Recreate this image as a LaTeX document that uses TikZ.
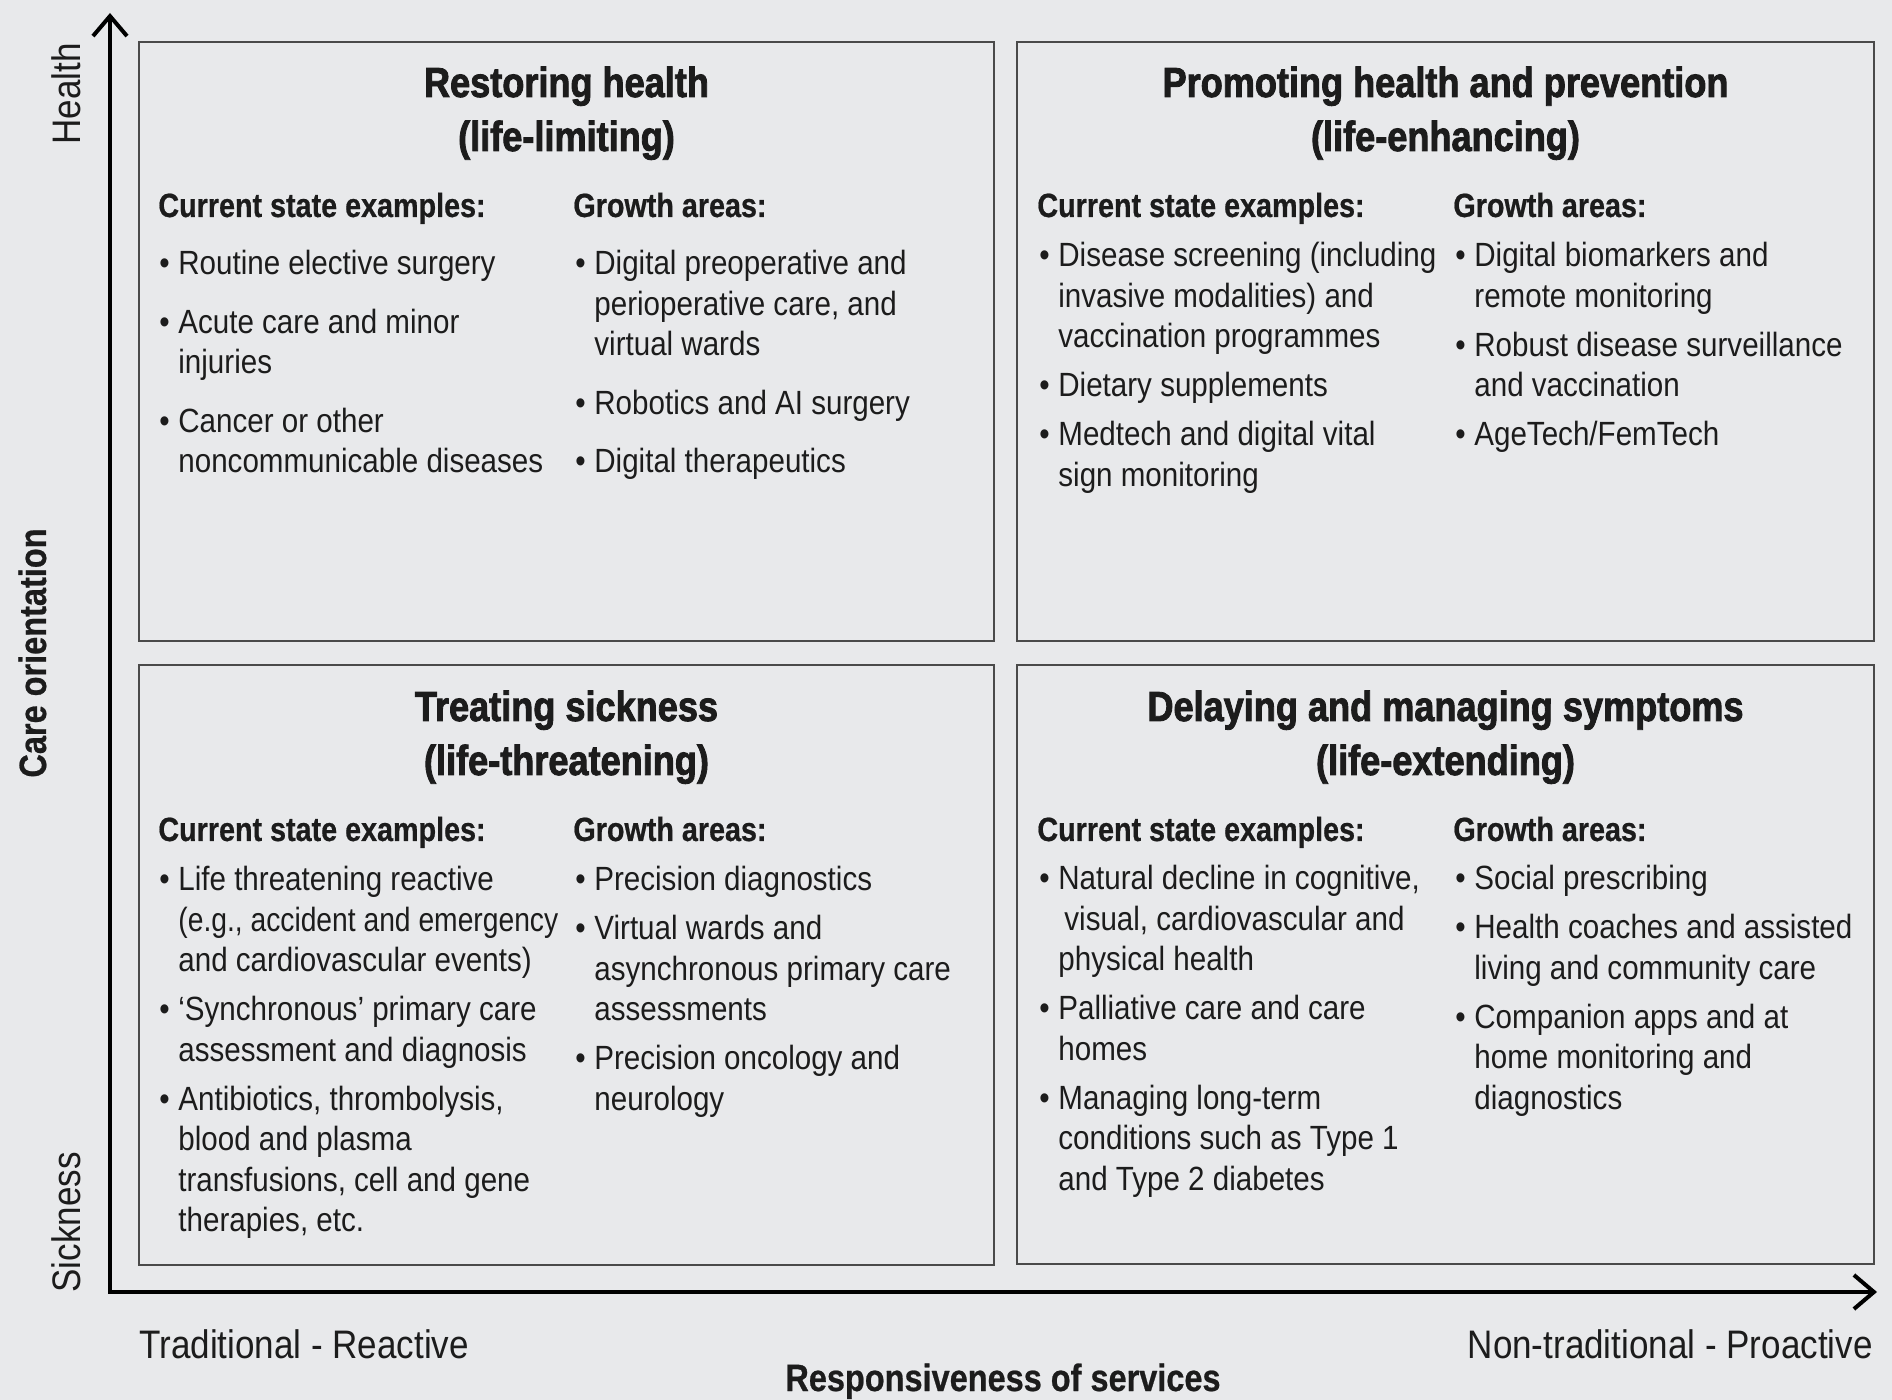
\documentclass[tikz,border=0pt]{standalone}
\usepackage{fontspec}
\usepackage{graphicx}
\setmainfont{Liberation Sans}[FakeStretch=0.88]
\newfontfamily\titlefont{Liberation Sans}[FakeStretch=0.86,FakeBold=2]
\newfontfamily\headfont{Liberation Sans}[FakeStretch=0.855,FakeBold=0.6]
\usetikzlibrary{arrows.meta}
\definecolor{bg}{HTML}{E8E9EB}
\definecolor{ink}{HTML}{1C1C1C}
\definecolor{framec}{HTML}{4A4A4A}
\newcommand{\bul}{\makebox[9.5pt][l]{\textbullet}}
\tikzset{
  body/.style={font=\fontsize{16.8}{20.25}\selectfont, text=ink, inner sep=0pt, anchor=base west},
  head/.style={font=\fontsize{16.8}{20.25}\selectfont\headfont\bfseries, text=ink, inner sep=0pt, anchor=base west},
  ttl/.style={font=\fontsize{21}{27}\selectfont\titlefont\bfseries, text=ink, inner sep=0pt, anchor=base},
  lab/.style={font=\fontsize{19.9}{23}\selectfont, text=ink, inner sep=0pt},
  blab/.style={font=\fontsize{19}{23}\selectfont\headfont\bfseries, text=ink, inner sep=0pt},
  quad/.style={draw=framec, line width=0.75pt},
  axis/.style={draw=black, line width=2pt, line join=miter}
}
\begin{document}
\begin{tikzpicture}[x=0.5pt,y=-0.5pt]
\fill[bg] (0,0) rectangle (1892,1400);
\useasboundingbox (0,0) rectangle (1892,1400);

% quadrant boxes
\draw[quad] (139,42) rectangle (994,641);
\draw[quad] (1017,42) rectangle (1874,641);
\draw[quad] (139,665) rectangle (994,1265);
\draw[quad] (1017,665) rectangle (1874,1264);

% axes
\coordinate (ytip) at (110,13);
\coordinate (o) at (110,1292);
\coordinate (xtip) at (1877,1292);
\draw[axis, {Straight Barb[length=10pt,width=17pt]}-{Straight Barb[length=10pt,width=17pt]}] (ytip) -- (o) -- (xtip);

% axis labels
\node[lab, rotate=90, anchor=base east] (health) at (80,43) {Health};
\node[lab, rotate=90, anchor=base west] (sick) at (80,1293) {Sickness};
\node[blab, rotate=90, anchor=base] (careo) at (46,653) {Care orientation};
\node[lab, anchor=base west] (trad) at (139,1358) {Traditional - Reactive};
\node[lab, anchor=base east] (nontrad) at (1873,1358) {Non-traditional - Proactive};
\node[blab, anchor=base] (resp) at (1003,1391) {Responsiveness of services};

% ---------- top-left ----------
\node[ttl] (tl-t) at (566.5,97) {\begin{tabular}[t]{@{}c@{}}Restoring health\\(life-limiting)\end{tabular}};
\node[head] (tl-h1) at (158,217) {Current state examples:};
\node[head] (tl-h2) at (573,217) {Growth areas:};
\node[body] (tl-c1) at (159,275) {\begin{tabular}[t]{@{}l@{}l@{}}
\bul & Routine elective surgery\\[9pt]
\bul & Acute care and minor\\
 & injuries\\[9pt]
\bul & Cancer or other\\
 & noncommunicable diseases
\end{tabular}};
\node[body] (tl-c2) at (575,275) {\begin{tabular}[t]{@{}l@{}l@{}}
\bul & Digital preoperative and\\
 & perioperative care, and\\
 & virtual wards\\[9pt]
\bul & Robotics and AI surgery\\[9pt]
\bul & Digital therapeutics
\end{tabular}};

% ---------- top-right ----------
\node[ttl] (tr-t) at (1445.5,97) {\begin{tabular}[t]{@{}c@{}}Promoting health and prevention\\(life-enhancing)\end{tabular}};
\node[head] (tr-h1) at (1037,217) {Current state examples:};
\node[head] (tr-h2) at (1453,217) {Growth areas:};
\node[body] (tr-c1) at (1039,267) {\begin{tabular}[t]{@{}l@{}l@{}}
\bul & Disease screening (including\\
 & invasive modalities) and\\
 & vaccination programmes\\[4.25pt]
\bul & Dietary supplements\\[4.25pt]
\bul & Medtech and digital vital\\
 & sign monitoring
\end{tabular}};
\node[body] (tr-c2) at (1455,267) {\begin{tabular}[t]{@{}l@{}l@{}}
\bul & Digital biomarkers and\\
 & remote monitoring\\[4.25pt]
\bul & Robust disease surveillance\\
 & and vaccination\\[4.25pt]
\bul & AgeTech/FemTech
\end{tabular}};

% ---------- bottom-left ----------
\node[ttl] (bl-t) at (566.5,721) {\begin{tabular}[t]{@{}c@{}}Treating sickness\\(life-threatening)\end{tabular}};
\node[head] (bl-h1) at (158,841) {Current state examples:};
\node[head] (bl-h2) at (573,841) {Growth areas:};
\node[body] (bl-c1) at (159,891) {\begin{tabular}[t]{@{}l@{}l@{}}
\bul & Life threatening reactive\\
 & \scalebox{0.955}[1]{(e.g., accident and emergency}\\
 & and cardiovascular events)\\[4.25pt]
\bul & ‘Synchronous’ primary care\\
 & assessment and diagnosis\\[4.25pt]
\bul & Antibiotics, thrombolysis,\\
 & blood and plasma\\
 & transfusions, cell and gene\\
 & therapies, etc.
\end{tabular}};
\node[body] (bl-c2) at (575,891) {\begin{tabular}[t]{@{}l@{}l@{}}
\bul & Precision diagnostics\\[4.25pt]
\bul & Virtual wards and\\
 & asynchronous primary care\\
 & assessments\\[4.25pt]
\bul & Precision oncology and\\
 & neurology
\end{tabular}};

% ---------- bottom-right ----------
\node[ttl] (br-t) at (1445.5,721) {\begin{tabular}[t]{@{}c@{}}Delaying and managing symptoms\\(life-extending)\end{tabular}};
\node[head] (br-h1) at (1037,841) {Current state examples:};
\node[head] (br-h2) at (1453,841) {Growth areas:};
\node[body] (br-c1) at (1039,890) {\begin{tabular}[t]{@{}l@{}l@{}}
\bul & Natural decline in cognitive,\\
 & \hspace{3pt}visual, cardiovascular and\\
 & physical health\\[4.25pt]
\bul & Palliative care and care\\
 & homes\\[4.25pt]
\bul & Managing long-term\\
 & conditions such as Type 1\\
 & and Type 2 diabetes
\end{tabular}};
\node[body] (br-c2) at (1455,890) {\begin{tabular}[t]{@{}l@{}l@{}}
\bul & Social prescribing\\[4.25pt]
\bul & Health coaches and assisted\\
 & living and community care\\[4.25pt]
\bul & Companion apps and at\\
 & home monitoring and\\
 & diagnostics
\end{tabular}};
\end{tikzpicture}
\end{document}
